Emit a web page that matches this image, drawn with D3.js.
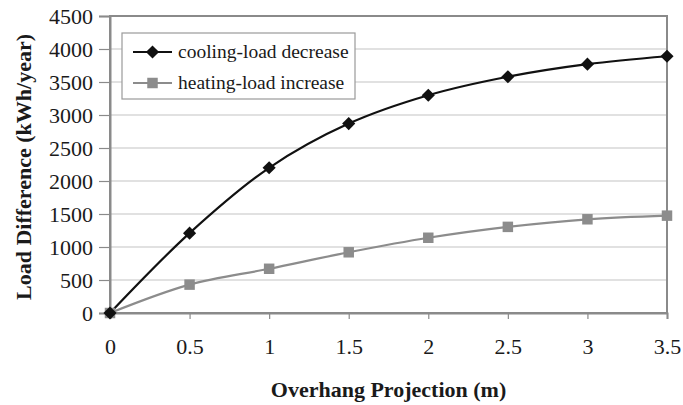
<!DOCTYPE html>
<html>
<head>
<meta charset="utf-8">
<script src="https://cdn.jsdelivr.net/npm/d3@7"></script>
<style>
  body { margin: 0; background: #fff; }
  svg text { font-family: "Liberation Serif", "Times New Roman", "DejaVu Serif", serif; }
</style>
</head>
<body>
<div id="chart"></div>
<script>
// --- data ---
const projection = [0, 0.5, 1, 1.5, 2, 2.5, 3, 3.5];
const coolingDecrease = [0, 1210, 2200, 2870, 3300, 3580, 3770, 3890];
const heatingIncrease = [0, 430, 670, 920, 1140, 1305, 1420, 1475];
const yTicks = [0, 500, 1000, 1500, 2000, 2500, 3000, 3500, 4000, 4500];
const seriesNames = ["cooling-load decrease", "heating-load increase"];

const W = 683, H = 405;
const margin = { top: 16, right: 16, bottom: 92, left: 110 };
const SERIF = '"Liberation Serif", "Times New Roman", serif';

const svg = d3.select("#chart").append("svg")
  .attr("width", W)
  .attr("height", H);

const x = d3.scaleLinear().domain([0, 3.5]).range([margin.left, W - margin.right]);
const y = d3.scaleLinear().domain([0, 4500]).range([H - margin.bottom, margin.top]);

// gridlines
svg.append("g")
  .selectAll("line")
  .data(yTicks.slice(1))
  .join("line")
  .attr("x1", x(0)).attr("x2", x(3.5))
  .attr("y1", d => y(d)).attr("y2", d => y(d))
  .attr("stroke", "#c4c4c4")
  .attr("stroke-width", 1.2);

// plot frame (top/right)
svg.append("rect")
  .attr("x", x(0)).attr("y", y(4500))
  .attr("width", x(3.5) - x(0))
  .attr("height", y(0) - y(4500))
  .attr("fill", "none")
  .attr("stroke", "#8a8a8a")
  .attr("stroke-width", 2);

// y axis
const yAxis = svg.append("g")
  .attr("transform", `translate(${x(0)},0)`)
  .call(d3.axisLeft(y).tickValues(yTicks).tickSize(11).tickPadding(6).tickFormat(d3.format("d")));
yAxis.attr("font-family", null);
yAxis.select(".domain").attr("stroke", "#8a8a8a").attr("stroke-width", 2);
yAxis.selectAll(".tick line").attr("stroke", "#8a8a8a").attr("stroke-width", 1.2);
yAxis.selectAll("text")
  .style("font-family", SERIF)
  .style("font-size", "22px")
  .attr("fill", "#1a1a1a");

// x axis
const xAxis = svg.append("g")
  .attr("transform", `translate(0,${y(0)})`)
  .call(d3.axisBottom(x).tickValues(projection).tickSize(6).tickPadding(19).tickFormat(d => d));
xAxis.attr("font-family", null);
xAxis.select(".domain").attr("stroke", "#8a8a8a").attr("stroke-width", 2);
xAxis.selectAll(".tick line").attr("stroke", "#8a8a8a").attr("stroke-width", 1.2);
xAxis.selectAll("text")
  .style("font-family", SERIF)
  .style("font-size", "22px")
  .attr("fill", "#1a1a1a");

// axis titles
svg.append("text")
  .attr("x", (x(0) + x(3.5)) / 2)
  .attr("y", 397)
  .attr("text-anchor", "middle")
  .style("font-family", SERIF)
  .style("font-size", "22px")
  .style("font-weight", "bold")
  .attr("fill", "#1a1a1a")
  .text("Overhang Projection (m)");

svg.append("text")
  .attr("transform", "translate(31,167) rotate(-90)")
  .attr("text-anchor", "middle")
  .style("font-family", SERIF)
  .style("font-size", "22px")
  .style("font-weight", "bold")
  .attr("fill", "#1a1a1a")
  .text("Load Difference (kWh/year)");

// lines
const line = d3.line()
  .x(d => x(d[0]))
  .y(d => y(d[1]))
  .curve(d3.curveCatmullRom.alpha(0.5));

const cooling = projection.map((p, i) => [p, coolingDecrease[i]]);
const heating = projection.map((p, i) => [p, heatingIncrease[i]]);

svg.append("path")
  .datum(heating)
  .attr("d", line)
  .attr("fill", "none")
  .attr("stroke", "#8c8c8c")
  .attr("stroke-width", 2.2);

svg.append("path")
  .datum(cooling)
  .attr("d", line)
  .attr("fill", "none")
  .attr("stroke", "#111")
  .attr("stroke-width", 2.2);

const diamond = d3.symbol().type(d3.symbolDiamond2).size(110);
const square = d3.symbol().type(d3.symbolSquare).size(110);

svg.append("g")
  .selectAll("path")
  .data(heating)
  .join("path")
  .attr("transform", d => `translate(${x(d[0])},${y(d[1])})`)
  .attr("d", square)
  .attr("fill", "#8c8c8c");

svg.append("g")
  .selectAll("path")
  .data(cooling)
  .join("path")
  .attr("transform", d => `translate(${x(d[0])},${y(d[1])})`)
  .attr("d", diamond)
  .attr("fill", "#111");

// legend
const legend = svg.append("g");
legend.append("rect")
  .attr("x", 122).attr("y", 33)
  .attr("width", 233).attr("height", 66)
  .attr("fill", "#fff")
  .attr("stroke", "#9a9a9a")
  .attr("stroke-width", 1.2);

const legendRows = [
  { name: seriesNames[0], color: "#111", sym: diamond, cy: 52 },
  { name: seriesNames[1], color: "#8c8c8c", sym: square, cy: 83 }
];
legendRows.forEach(r => {
  legend.append("line")
    .attr("x1", 133).attr("x2", 172)
    .attr("y1", r.cy).attr("y2", r.cy)
    .attr("stroke", r.color).attr("stroke-width", 2.2);
  legend.append("path")
    .attr("transform", `translate(152.5,${r.cy})`)
    .attr("d", r.sym)
    .attr("fill", r.color);
  legend.append("text")
    .attr("x", 178).attr("y", r.cy + 6)
    .style("font-family", SERIF)
    .style("font-size", "19.5px")
    .attr("fill", "#1a1a1a")
    .text(r.name);
});
</script>
</body>
</html>
